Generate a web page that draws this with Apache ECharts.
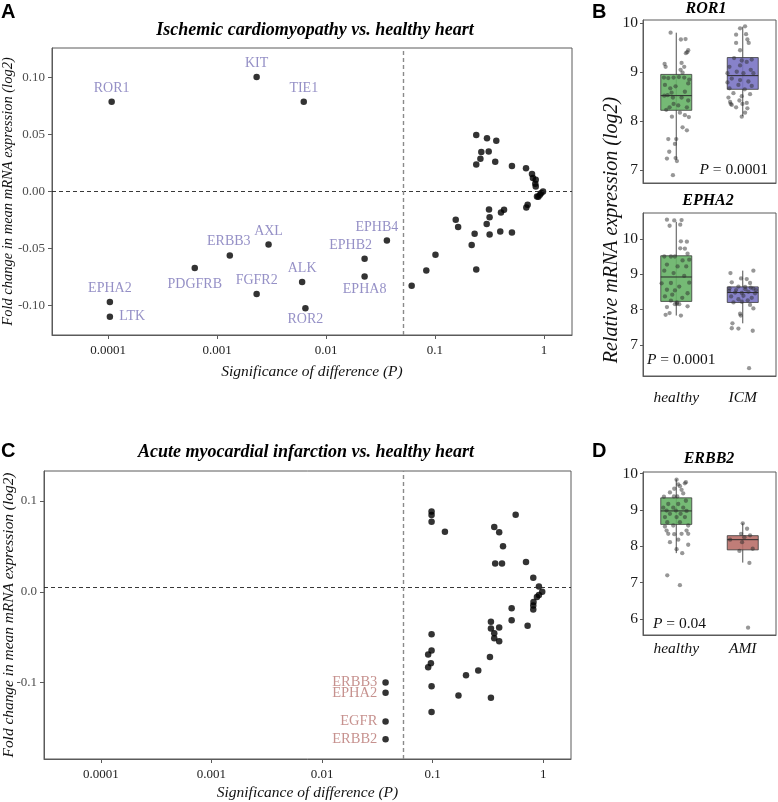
<!DOCTYPE html>
<html>
<head>
<meta charset="utf-8">
<script src="https://cdn.jsdelivr.net/npm/echarts@6/dist/echarts.min.js"></script>
<style>
  html, body { margin: 0; padding: 0; background: #fff; }
  #chart { width: 778px; height: 802px; }
</style>
</head>
<body>
<div id="chart"></div>
<script>
const SERIF = '"Liberation Serif", "DejaVu Serif", serif'
const SANS = '"Liberation Sans", Arial, sans-serif'

// p-value ticks shared by both volcano-ish panels
const pTicks = [0.0001, 0.001, 0.01, 0.1, 1]
const pTickLabels = ['0.0001', '0.001', '0.01', '0.1', '1']

// panel A: ischemic cardiomyopathy vs healthy, labelled receptors
const icmNames = ['ROR1', 'KIT', 'TIE1', 'AXL', 'ERBB3', 'PDGFRB', 'FGFR2', 'ALK', 'ROR2', 'EPHB2', 'EPHA8', 'EPHB4', 'EPHA2', 'LTK']
const icmP = [0.000108, 0.00231, 0.00625, 0.00297, 0.00131, 0.000625, 0.00231, 0.00604, 0.00647, 0.0226, 0.0226, 0.0362, 0.000104, 0.000104]
const icmFc = [0.0787, 0.1006, 0.0787, -0.0465, -0.0561, -0.0672, -0.090, -0.0795, -0.1026, -0.059, -0.0746, -0.043, -0.097, -0.110]
// panel A: the rest (not significant)
const icmRestP = [0.239, 0.300, 0.365, 0.266, 0.311, 0.261, 0.357, 0.239, 0.508, 0.684, 0.776, 0.792, 0.840, 0.832, 0.840, 0.98, 0.944, 0.918, 0.887, 0.863, 0.708, 0.688, 0.430, 0.403, 0.313, 0.317, 0.155, 0.163, 0.298, 0.231, 0.317, 0.397, 0.508, 0.217, 0.101, 0.0832, 0.239, 0.0611]
const icmRestFc = [0.0497, 0.0468, 0.0445, 0.0346, 0.0351, 0.0287, 0.0261, 0.0237, 0.0225, 0.0205, 0.0153, 0.0118, 0.0103, 0.0068, 0.0044, 0, -0.0014, -0.0029, -0.0047, -0.0044, -0.0117, -0.0140, -0.0161, -0.0184, -0.0158, -0.0225, -0.0248, -0.0312, -0.0286, -0.0371, -0.0377, -0.0351, -0.0360, -0.0470, -0.0555, -0.0693, -0.0684, -0.0827]

// panel C: acute MI vs healthy
const amiNames = ['ERBB3', 'EPHA2', 'EGFR', 'ERBB2']
const amiP = [0.0375, 0.0375, 0.0375, 0.0375]
const amiFc = [-0.0999, -0.1112, -0.1428, -0.1622]
const amiRestP = [0.0977, 0.0977, 0.0977, 0.129, 0.562, 0.360, 0.399, 0.432, 0.367, 0.423, 0.697, 0.811, 0.912, 0.977, 0.912, 0.875, 0.815, 0.811, 0.811, 0.517, 0.517, 0.721, 0.336, 0.336, 0.399, 0.360, 0.360, 0.399, 0.329, 0.258, 0.200, 0.171, 0.336, 0.0977, 0.0977, 0.0910, 0.0963, 0.0910, 0.0977, 0.0977]
const amiRestFc = [0.0884, 0.0845, 0.0771, 0.0661, 0.0848, 0.0713, 0.0657, 0.0503, 0.0312, 0.0312, 0.0327, 0.0154, 0.0058, 0, -0.0036, -0.0058, -0.0113, -0.0151, -0.0195, -0.0180, -0.0312, -0.0374, -0.0330, -0.0404, -0.0393, -0.0455, -0.0510, -0.0543, -0.0716, -0.0867, -0.0917, -0.1142, -0.1167, -0.0466, -0.0646, -0.0691, -0.0785, -0.0829, -0.1039, -0.1322]

// boxplots: [lower whisker, Q1, median, Q3, upper whisker]
const ror1Box = [[7.21, 8.22, 8.52, 8.955, 9.81], [8.10, 8.65, 8.93, 9.30, 9.93]]
const epha2Box = [[7.83, 8.23, 8.92, 9.52, 10.48], [7.61, 8.20, 8.48, 8.64, 9.10]]
const erbb2Box = [[7.81, 8.60, 8.97, 9.33, 9.84], [7.55, 7.90, 8.18, 8.29, 8.63]]

// jittered samples: [jitter, value]
const ror1Healthy = [[-0.085, 9.81], [0.07, 9.67], [0.14, 9.68], [0.18, 9.45], [0.165, 9.41], [0.145, 9.39], [-0.175, 9.17], [-0.16, 9.11], [0.08, 9.19], [0.12, 9.11], [0.065, 9.05], [0.095, 8.99], [-0.185, 8.89], [-0.12, 8.88], [-0.04, 8.89], [0.04, 8.90], [0.12, 8.89], [0.195, 8.85], [-0.17, 8.74], [-0.09, 8.67], [-0.01, 8.71], [0.18, 8.77], [-0.07, 8.58], [0.13, 8.60], [-0.18, 8.52], [-0.13, 8.53], [-0.05, 8.48], [0.08, 8.48], [0.18, 8.42], [-0.04, 8.35], [0.03, 8.32], [-0.1, 8.28], [0.16, 8.28], [-0.15, 8.23], [0.055, 8.17], [-0.065, 8.09], [0.13, 8.12], [0.19, 8.08], [0.095, 7.87], [0.16, 7.81], [-0.12, 7.63], [0, 7.63], [-0.02, 7.53], [-0.105, 7.37], [-0.14, 7.23], [-0.01, 7.24], [0.01, 7.18], [-0.05, 6.89]]
const ror1Icm = [[0.035, 9.94], [-0.04, 9.90], [-0.1, 9.77], [0.05, 9.78], [-0.1, 9.6], [0.07, 9.67], [0.09, 9.6], [-0.04, 9.45], [-0.13, 9.29], [-0.015, 9.24], [0.06, 9.21], [0.135, 9.26], [-0.2, 9.11], [-0.04, 9.14], [0.12, 9.05], [-0.23, 8.98], [-0.09, 9.01], [0.01, 8.98], [0.16, 8.98], [-0.165, 8.87], [-0.04, 8.84], [0.085, 8.81], [-0.23, 8.79], [-0.065, 8.74], [0.135, 8.72], [-0.2, 8.67], [0.03, 8.65], [-0.14, 8.57], [-0.015, 8.51], [0.11, 8.55], [-0.215, 8.48], [-0.19, 8.39], [-0.05, 8.42], [0.06, 8.37], [-0.165, 8.33], [-0.1, 8.28], [-0.005, 8.35], [0.07, 8.26], [0.035, 8.17], [-0.015, 8.09], [-0.18, 8.35]]
const epha2Healthy = [[-0.14, 10.54], [-0.03, 10.52], [-0.1, 10.37], [0.06, 10.4], [0.08, 10.53], [0.16, 9.92], [0.07, 9.93], [0.06, 9.73], [0.13, 9.72], [0.17, 9.58], [-0.18, 9.5], [-0.08, 9.5], [-0.02, 9.5], [0.095, 9.39], [0.195, 9.41], [-0.14, 9.27], [0.02, 9.22], [0.15, 9.22], [-0.18, 9.1], [-0.04, 9.03], [0.12, 8.95], [-0.22, 8.74], [-0.08, 8.75], [0.195, 8.76], [0.045, 8.65], [-0.14, 8.56], [-0.02, 8.54], [0.17, 8.46], [-0.06, 8.42], [-0.17, 8.37], [0.09, 8.33], [-0.08, 8.25], [0.01, 8.2], [0.01, 8.16], [-0.02, 8.15], [0.045, 8.15], [-0.14, 8.07], [0.17, 8.09], [-0.16, 7.85], [-0.1, 7.9], [0.07, 7.83]]
const epha2Icm = [[-0.185, 9.03], [0.16, 9.1], [-0.025, 8.88], [0.06, 8.86], [0.11, 8.75], [-0.165, 8.77], [-0.065, 8.65], [0.035, 8.64], [0.16, 8.59], [-0.205, 8.53], [-0.115, 8.48], [-0.015, 8.47], [0.085, 8.5], [0.185, 8.46], [-0.175, 8.37], [0.01, 8.39], [0.135, 8.33], [-0.065, 8.29], [0.075, 8.26], [-0.14, 8.2], [-0.015, 8.22], [0.11, 8.13], [0.16, 8.03], [-0.04, 7.88], [-0.03, 7.83], [-0.155, 7.61], [-0.165, 7.47], [-0.065, 7.46], [0.15, 7.40], [0.095, 6.34], [0.12, 8.62], [-0.1, 8.55], [0.04, 8.57], [-0.2, 8.6], [0.2, 8.55]]
const erbb2Healthy = [[0.005, 9.83], [0.145, 9.76], [0.13, 9.73], [0.03, 9.7], [0.055, 9.65], [-0.03, 9.58], [0.08, 9.55], [-0.095, 9.48], [0.105, 9.45], [-0.035, 9.37], [0.015, 9.37], [-0.185, 9.36], [0.145, 9.25], [-0.12, 9.16], [0.03, 9.16], [-0.195, 9.06], [-0.045, 9.06], [0.105, 9.06], [-0.145, 8.98], [-0.005, 8.98], [0.155, 8.97], [-0.095, 8.89], [0.065, 8.89], [-0.17, 8.80], [0.005, 8.80], [0.13, 8.80], [-0.135, 8.66], [0.055, 8.66], [-0.045, 8.57], [0.18, 8.57], [-0.17, 8.54], [-0.145, 8.43], [0.155, 8.43], [-0.12, 8.34], [-0.03, 8.33], [0.08, 8.34], [0.18, 8.34], [0.03, 8.18], [-0.095, 8.11], [0.18, 8.04], [0.005, 7.92], [0.09, 7.81], [-0.135, 7.2], [0.055, 6.93]]
const erbb2Ami = [[0, 8.63], [0.065, 8.48], [-0.025, 8.34], [0.11, 8.30], [0.025, 8.25], [-0.19, 8.18], [-0.01, 8.11], [0.15, 7.93], [-0.05, 7.87], [0.1, 7.54], [0.08, 5.76]]

// where each name sits around its dot in panel A
const icmLabelPlace = {
  ROR1: { position: 'top', distance: 3 },
  KIT: { position: 'top', distance: 3 },
  TIE1: { position: 'top', distance: 3 },
  AXL: { position: 'top', distance: 3 },
  ERBB3: { position: 'top', distance: 4, offset: [-1, 0] },
  PDGFRB: { position: 'bottom', distance: 6 },
  FGFR2: { position: 'top', distance: 3 },
  ALK: { position: 'top', distance: 3 },
  ROR2: { position: 'bottom', distance: 1 },
  EPHB2: { position: 'top', distance: 3, offset: [-14, 0] },
  EPHA8: { position: 'bottom', distance: 3 },
  EPHB4: { position: 'top', distance: 3, offset: [-10, 0] },
  EPHA2: { position: 'top', distance: 3 },
  LTK: { position: 'right', distance: 6 }
}

const lg = Math.log10
const pAxisTicks = pTicks.map(lg)
const pLabel = v => pTickLabels[Math.round(v) + 4]

function pts (ps, fcs) {
  return ps.map((p, i) => [lg(p), fcs[i]])
}

function jitter (arr, idx) {
  return arr.map(d => [idx + d[0], d[1]])
}

function boxRender (fills) {
  return function (params, api) {
    const idx = api.value(0)
    const lo = api.coord([idx, api.value(1)])
    const q1 = api.coord([idx, api.value(2)])
    const md = api.coord([idx, api.value(3)])
    const q3 = api.coord([idx, api.value(4)])
    const hi = api.coord([idx, api.value(5)])
    const half = 15.5
    const x = lo[0]
    const ln = { stroke: '#3a3a3a', lineWidth: 0.9 }
    return {
      type: 'group',
      children: [
        { type: 'line', shape: { x1: x, y1: hi[1], x2: x, y2: lo[1] }, style: ln },
        { type: 'rect', shape: { x: x - half, y: q3[1], width: half * 2, height: q1[1] - q3[1] }, style: { fill: fills[idx], opacity: 0.9, stroke: '#3a3a3a', lineWidth: 0.9 } },
        { type: 'line', shape: { x1: x - half, y1: md[1], x2: x + half, y2: md[1] }, style: { stroke: '#2a2a2a', lineWidth: 1 } }
      ]
    }
  }
}

const nameFont = { fontFamily: SERIF, fontStyle: 'italic', color: '#111' }

function pAxis (grid, min, max, nameGap) {
  return {
    type: 'value', gridIndex: grid, min: min, max: max,
    name: 'Significance of difference (P)', nameLocation: 'middle', nameGap: nameGap, nameMoveOverlap: false,
    nameTextStyle: Object.assign({ fontSize: 15.5 }, nameFont),
    axisLine: { onZero: false, lineStyle: { color: '#5a5a5a' } },
    axisTick: { customValues: pAxisTicks, length: 4, lineStyle: { color: '#5a5a5a' } },
    axisLabel: { customValues: pAxisTicks, formatter: pLabel, margin: 9, fontFamily: SERIF, fontSize: 13, color: '#222' },
    splitLine: { show: false }
  }
}

function fcAxis (grid, min, max, ticks, digits, nameGap, nameSize) {
  return {
    type: 'value', gridIndex: grid, min: min, max: max,
    name: 'Fold change in mean mRNA expression (log2)', nameLocation: 'middle', nameGap: nameGap, nameMoveOverlap: false,
    nameTextStyle: Object.assign({ fontSize: nameSize }, nameFont),
    axisLine: { show: true, onZero: false, lineStyle: { color: '#5a5a5a' } },
    axisTick: { show: true, customValues: ticks, length: 4, lineStyle: { color: '#5a5a5a' } },
    axisLabel: { customValues: ticks, formatter: v => v.toFixed(digits), margin: 7, fontFamily: SERIF, fontSize: 13, color: '#4d4d4d' },
    splitLine: { show: false }
  }
}

function boxY (grid, min, max, ticks) {
  return {
    type: 'value', gridIndex: grid, min: min, max: max,
    axisLine: { show: true, onZero: false, lineStyle: { color: '#5a5a5a' } },
    axisTick: { show: true, customValues: ticks, length: 3, lineStyle: { color: '#5a5a5a' } },
    axisLabel: { customValues: ticks, margin: 5, fontFamily: SERIF, fontSize: 15.5, color: '#1a1a1a' },
    splitLine: { show: false }
  }
}

function boxX (grid, cats, showLabel, margin) {
  return {
    type: 'category', gridIndex: grid, data: cats,
    axisLine: { show: true, onZero: false, lineStyle: { color: '#5a5a5a' } },
    axisTick: { show: false },
    axisLabel: { show: showLabel, margin: margin, fontFamily: SERIF, fontStyle: 'italic', fontSize: 15.5, color: '#111' }
  }
}

function jitterX (grid) {
  return { type: 'value', gridIndex: grid, min: -0.5, max: 1.5, show: false }
}

function boxSeries (xi, yi, boxes, fills) {
  return {
    type: 'custom', xAxisIndex: xi, yAxisIndex: yi,
    renderItem: boxRender(fills),
    encode: { x: 0, y: [1, 2, 3, 4, 5] },
    data: boxes.map((b, i) => [i].concat(b)),
    z: 2
  }
}

function dotSeries (xi, yi, data) {
  return {
    type: 'scatter', xAxisIndex: xi, yAxisIndex: yi, data: data,
    symbolSize: 4.3, itemStyle: { color: 'rgba(45,45,45,0.62)' }, z: 3, silent: true
  }
}

function refLines (y, p) {
  return {
    silent: true, symbol: 'none', label: { show: false }, animation: false, precision: 6,
    data: [
      { yAxis: y, lineStyle: { color: '#222', type: [4, 3], width: 0.9 } },
      { xAxis: lg(p), lineStyle: { color: '#8a8a8a', type: [4, 3], width: 1.4 } }
    ]
  }
}

function gridBox (left, top, width, height) {
  return { left: left, top: top, width: width, height: height, outerBoundsMode: 'none', containLabel: false, show: true, borderColor: '#5a5a5a', borderWidth: 1 }
}

function title (text, x, y, size) {
  return { type: 'text', x: x, y: y, style: { text: text, font: 'italic bold ' + size + 'px ' + SERIF, fill: '#000', align: 'center', verticalAlign: 'middle' } }
}

function letter (text, x, y) {
  return { type: 'text', left: x, top: y, style: { text: text, font: 'bold 20px ' + SANS, fill: '#000' } }
}

function pText (text, x, y, align) {
  return {
    type: 'text', x: x, y: y,
    style: {
      text: '{i|P} = ' + text, fontFamily: SERIF, fontSize: 15.5, fill: '#111', align: align, verticalAlign: 'middle',
      rich: { i: { fontStyle: 'italic', fontFamily: SERIF, fontSize: 15.5 } }
    }
  }
}

const chart = echarts.init(document.getElementById('chart'))

const option = {
  animation: false,
  backgroundColor: '#fff',
  grid: [
    gridBox(52, 48, 520, 287),
    gridBox(44, 471, 527, 288),
    gridBox(643, 20, 133, 163),
    gridBox(643, 213, 133, 163),
    gridBox(643, 472, 133, 163)
  ],
  xAxis: [
    pAxis(0, -4.514, 0.257, 29),
    pAxis(1, -4.513, 0.25, 26),
    boxX(2, ['healthy', 'ICM'], false, 12),
    jitterX(2),
    boxX(3, ['healthy', 'ICM'], true, 14),
    jitterX(3),
    boxX(4, ['healthy', 'AMI'], true, 6),
    jitterX(4)
  ],
  yAxis: [
    fcAxis(0, -0.126, 0.126, [-0.1, -0.05, 0, 0.05, 0.1], 2, 36, 14.5),
    fcAxis(1, -0.184, 0.133, [-0.1, 0, 0.1], 1, 28, 15.4),
    boxY(2, 6.73, 10.07, [7, 8, 9, 10]),
    boxY(3, 6.12, 10.73, [7, 8, 9, 10]),
    boxY(4, 5.56, 10.04, [6, 7, 8, 9, 10])
  ],
  series: [
    {
      type: 'scatter', xAxisIndex: 0, yAxisIndex: 0,
      data: pts(icmRestP, icmRestFc),
      symbolSize: 6.5, itemStyle: { color: '#000' }, silent: true,
      markLine: refLines(0, 0.051)
    },
    {
      type: 'scatter', xAxisIndex: 0, yAxisIndex: 0,
      data: icmNames.map((n, i) => ({
        name: n, value: [lg(icmP[i]), icmFc[i]],
        label: Object.assign({}, icmLabelPlace[n])
      })),
      symbolSize: 6.5, itemStyle: { color: '#000' }, silent: true,
      label: { show: true, formatter: '{b}', fontFamily: SERIF, fontSize: 14, color: '#7b74b8' }
    },
    {
      type: 'scatter', xAxisIndex: 1, yAxisIndex: 1,
      data: pts(amiRestP, amiRestFc),
      symbolSize: 6.5, itemStyle: { color: '#000' }, silent: true,
      markLine: refLines(0.005, 0.054)
    },
    {
      type: 'scatter', xAxisIndex: 1, yAxisIndex: 1,
      data: amiNames.map((n, i) => ({ name: n, value: [lg(amiP[i]), amiFc[i]] })),
      symbolSize: 6.5, itemStyle: { color: '#000' }, silent: true,
      label: { show: true, position: 'left', distance: 5, formatter: '{b}', fontFamily: SERIF, fontSize: 14.5, color: '#b87572' }
    },
    boxSeries(2, 2, ror1Box, ['#66b366', '#7a74c4']),
    dotSeries(3, 2, jitter(ror1Healthy, 0).concat(jitter(ror1Icm, 1))),
    boxSeries(4, 3, epha2Box, ['#66b366', '#7a74c4']),
    dotSeries(5, 3, jitter(epha2Healthy, 0).concat(jitter(epha2Icm, 1))),
    boxSeries(6, 4, erbb2Box, ['#66b366', '#b96f69']),
    dotSeries(7, 4, jitter(erbb2Healthy, 0).concat(jitter(erbb2Ami, 1)))
  ],
  graphic: [
    letter('A', 1, 2),
    letter('B', 592, 2),
    letter('C', 1, 441),
    letter('D', 592, 441),
    title('Ischemic cardiomyopathy vs. healthy heart', 315, 30, 18),
    title('Acute myocardial infarction vs. healthy heart', 306, 452, 18),
    title('ROR1', 706, 9, 16),
    title('EPHA2', 708, 201, 16),
    title('ERBB2', 709, 459, 16),
    { type: 'text', x: 612, y: 230, rotation: Math.PI / 2, style: { text: 'Relative mRNA expression (log2)', font: 'italic 20px ' + SERIF, fill: '#111', align: 'center', verticalAlign: 'middle' } },
    pText('0.0001', 768, 170, 'right'),
    pText('0.0001', 647, 360, 'left'),
    pText('0.04', 653, 624, 'left')
  ]
}

chart.setOption(option)
window.addEventListener('resize', () => chart.resize())
</script>
</body>
</html>
